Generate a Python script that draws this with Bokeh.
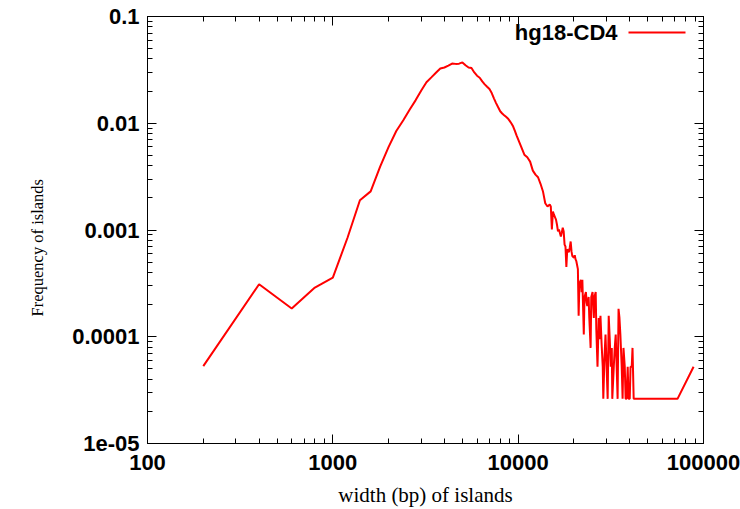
from bokeh.plotting import figure
from bokeh.models import FixedTicker, LogAxis, Label, Arrow, Range1d, CustomJSTickFormatter, Title
from bokeh.embed import file_html
from bokeh.resources import INLINE

# ---- data: island width (bp) vs frequency of islands ----
rise_width = [200, 400, 600, 800, 1000, 1200, 1400, 1600, 1800, 2000, 2200, 2400, 2600, 2800]
rise_freq = [5.3e-5, 3.1e-4, 1.84e-4, 2.89e-4, 3.58e-4, 8.46e-4, 1.90e-3, 2.30e-3, 3.92e-3,
             6.01e-3, 8.47e-3, 1.068e-2, 1.346e-2, 1.647e-2]

peak_width = [3000, 3200, 3400, 3600, 3800, 4000, 4200, 4400, 4600, 4800,
              5000, 5200, 5400, 5600, 5800, 6000, 6200, 6400, 6600, 6800,
              7000, 7200, 7400, 7600, 7800, 8000, 8200, 8400, 8600, 8800,
              9000, 9200, 9400, 9600, 9800]
peak_freq = [2.029e-2, 2.424e-2, 2.688e-2, 2.967e-2, 3.254e-2, 3.331e-2, 3.462e-2, 3.622e-2, 3.599e-2, 3.614e-2,
             3.716e-2, 3.493e-2, 3.331e-2, 3.289e-2, 2.992e-2, 2.788e-2, 2.671e-2, 2.466e-2, 2.312e-2, 2.196e-2,
             2.090e-2, 1.919e-2, 1.712e-2, 1.544e-2, 1.411e-2, 1.295e-2, 1.235e-2, 1.191e-2, 1.151e-2, 1.110e-2,
             1.052e-2, 9.95e-3, 9.31e-3, 8.47e-3, 7.70e-3]

decline_width = [10000, 10400, 10800, 11200, 11600, 12000, 12400, 12800, 13200, 13600,
                 14000, 14400, 14800, 15000, 15200, 15400, 15600, 16000, 16200, 16400,
                 16600, 17000, 17200, 17400, 17600, 17800, 18000, 18200, 18400, 18800,
                 19000, 19200, 19400, 19600, 20000, 20200, 20400, 20600, 21000]
decline_freq = [7.07e-3, 5.99e-3, 5.08e-3, 4.80e-3, 4.37e-3, 3.60e-3, 3.30e-3, 3.12e-3, 2.71e-3, 2.31e-3,
                1.78e-3, 1.66e-3, 1.73e-3, 1.66e-3, 1.01e-3, 1.49e-3, 1.39e-3, 1.25e-3, 1.12e-3, 9.7e-4,
                1.01e-3, 8.7e-4, 9.5e-4, 1.05e-3, 9.7e-4, 7.3e-4, 7.0e-4, 4.5e-4, 6.6e-4, 6.2e-4,
                6.9e-4, 7.8e-4, 6.3e-4, 5.7e-4, 5.5e-4, 5.8e-4, 5.3e-4, 5.1e-4, 4.3e-4]

tail_width = [21200, 21400, 21800, 22000, 22200, 22600, 22800, 23200, 23400, 23600,
              24000, 24200, 24600, 24800, 25200, 25600, 25800, 26200, 26400, 26800,
              27200, 27400, 27800, 28200, 28600, 28800, 29200, 29600, 30000, 30400,
              30800, 31200, 31600, 32000, 32200, 32800, 33200, 33600, 34000, 34400,
              34800, 35200, 35600, 36200, 36600, 37000, 37600, 38000, 38400, 39000,
              39400, 40000, 40400, 41000, 41400, 42000, 72400, 88400]
tail_freq = [1.57e-4, 3.14e-4, 3.41e-4, 2.62e-4, 3.41e-4, 1.05e-4, 2.36e-4, 2.62e-4, 2.10e-4, 1.94e-4,
             2.36e-4, 1.50e-4, 7.86e-5, 2.36e-4, 2.62e-4, 1.50e-4, 2.36e-4, 2.62e-4, 1.18e-4, 5.24e-5,
             1.50e-4, 9.5e-5, 1.57e-4, 8.5e-5, 5.24e-5, 2.62e-5, 6.2e-5, 1.05e-4, 5.24e-5, 2.62e-5,
             1.57e-4, 9.5e-5, 5.24e-5, 7.86e-5, 2.62e-5, 5.24e-5, 7.86e-5, 1.05e-4, 5.24e-5, 2.62e-5,
             1.83e-4, 1.50e-4, 1.05e-4, 5.24e-5, 2.62e-5, 7.86e-5, 5.24e-5, 2.62e-5, 2.62e-5, 5.24e-5,
             2.62e-5, 2.62e-5, 5.24e-5, 5.24e-5, 7.86e-5, 2.62e-5, 2.62e-5, 5.24e-5]

series_name = "hg18-CD4"
x_title = "width (bp) of islands"
y_title = "Frequency of islands"
x_ticks = [100, 1000, 10000, 100000]
x_tick_labels = ["100", "1000", "10000", "100000"]
y_ticks = [1e-5, 1e-4, 1e-3, 1e-2, 1e-1]
y_tick_labels = ["1e-05", "0.0001", "0.001", "0.01", "0.1"]

widths = rise_width + peak_width + decline_width + tail_width
freqs = rise_freq + peak_freq + decline_freq + tail_freq

# minor ticks at 2..9 within each decade
x_minor = [m * d for d in x_ticks[:-1] for m in range(2, 10)]
y_minor = [m * d for d in y_ticks[:-1] for m in range(2, 10)]

TICK_FONT = "Liberation Sans"
LABEL_FONT = "Liberation Serif"
TICK_SIZE = "22px"

p = figure(width=740, height=509, x_axis_type="log", y_axis_type="log",
           x_range=Range1d(100, 100000), y_range=Range1d(1e-5, 0.1),
           output_backend="svg", toolbar_location=None,
           min_border_left=147, min_border_right=37, min_border_top=16, min_border_bottom=64)

p.background_fill_color = "white"
p.border_fill_color = "white"
p.outline_line_color = "black"
p.outline_line_width = 1
p.xgrid.visible = False
p.ygrid.visible = False

p.line(widths, freqs, line_color="#ff0000", line_width=2)


def style_axis(ax, ticks, minor, labels, show_labels=True):
    ax.ticker = FixedTicker(ticks=ticks, minor_ticks=minor)
    ax.axis_line_color = "black"
    ax.major_tick_line_color = "black"
    ax.minor_tick_line_color = "black"
    ax.major_tick_in = 9
    ax.major_tick_out = 0
    ax.minor_tick_in = 5
    ax.minor_tick_out = 0
    ax.major_label_standoff = 8
    ax.major_label_text_font = TICK_FONT
    ax.major_label_text_font_style = "bold"
    ax.major_label_text_font_size = TICK_SIZE
    ax.major_label_text_color = "black"
    if show_labels:
        ax.major_label_overrides = {t: l for t, l in zip(ticks, labels)}
    else:
        ax.formatter = CustomJSTickFormatter(code="return ''")
        ax.major_label_standoff = 0


style_axis(p.xaxis[0], x_ticks, x_minor, x_tick_labels)
style_axis(p.yaxis[0], y_ticks, y_minor, y_tick_labels)
p.xaxis[0].major_label_standoff = 11

p.xaxis[0].axis_label = x_title
p.xaxis[0].axis_label_text_font = LABEL_FONT
p.xaxis[0].axis_label_text_font_style = "normal"
p.xaxis[0].axis_label_text_font_size = "21px"
p.xaxis[0].axis_label_text_color = "black"
p.xaxis[0].axis_label_standoff = 10

right_ax = LogAxis()
style_axis(right_ax, y_ticks, y_minor, y_tick_labels, show_labels=False)
p.add_layout(right_ax, "right")

top_ax = LogAxis()
style_axis(top_ax, x_ticks, x_minor, x_tick_labels, show_labels=False)
p.add_layout(top_ax, "above")

# y title as a left-side title, so it can sit a little below the frame centre
p.add_layout(Title(text=y_title, align="left", offset=127, standoff=46,
                   text_font=LABEL_FONT, text_font_size="16.5px",
                   text_font_style="normal", text_color="black"), "left")

# key: text to the left of the line sample (gnuplot style)
p.add_layout(Label(x=470, y=411, x_units="screen", y_units="screen", text=series_name,
                   text_align="right", text_baseline="middle", text_font=TICK_FONT,
                   text_font_style="bold", text_font_size=TICK_SIZE, text_color="black"))
p.add_layout(Arrow(x_start=481, y_start=411, x_end=538, y_end=411,
                   start_units="screen", end_units="screen", end=None,
                   line_color="#ff0000", line_width=2))

open("out.html", "w").write(file_html(p, INLINE))
